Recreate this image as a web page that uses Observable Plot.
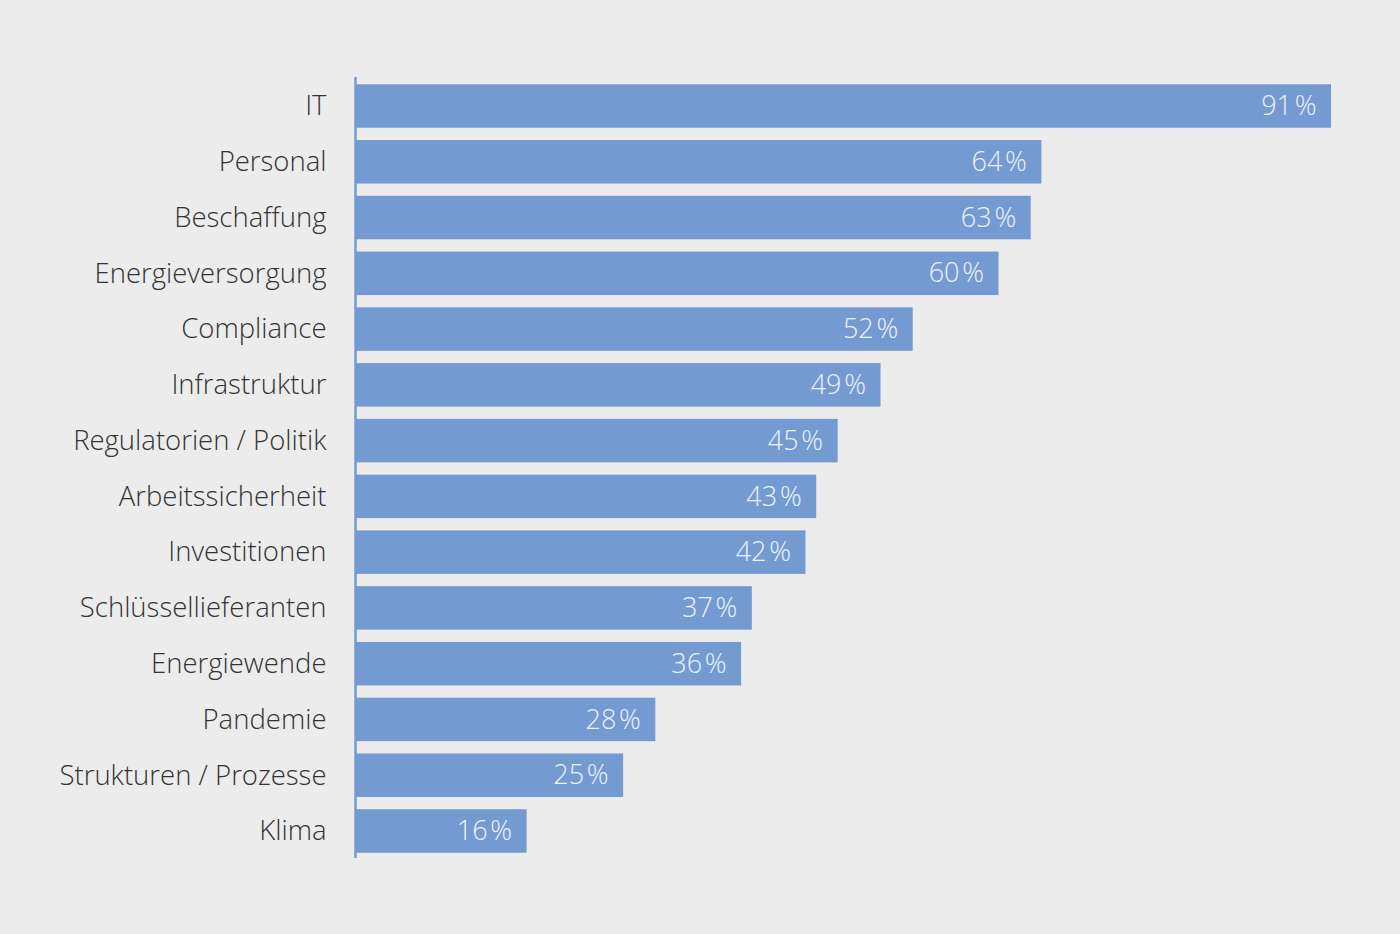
<!DOCTYPE html>
<html><head><meta charset="utf-8">
<script src="https://cdn.jsdelivr.net/npm/d3@7"></script>
<script src="https://cdn.jsdelivr.net/npm/@observablehq/plot@0.6"></script>
<style>
html,body{margin:0;padding:0;background:#ececec;}
#chart{width:1400px;height:934px;}
</style></head>
<body><div id="chart"></div>
<script>
const categories = ["IT","Personal","Beschaffung","Energieversorgung","Compliance","Infrastruktur","Regulatorien / Politik","Arbeitssicherheit","Investitionen","Schlüssellieferanten","Energiewende","Pandemie","Strukturen / Prozesse","Klima"];
const values = [91,64,63,60,52,49,45,43,42,37,36,28,25,16];
const data = categories.map((c,i)=>({category:c, value:values[i]}));
const barColor = "#739bd2";
const chart = Plot.plot({
  width:1400, height:934,
  marginLeft:355, marginRight:69, marginTop:72, marginBottom:69,
  style:{background:"#ececec", fontFamily:"'Open Sans', sans-serif", fontWeight:300, fontSize:"27px"},
  x:{domain:[0,91], axis:null},
  y:{domain:categories, padding:0.22, round:false, label:null, tickSize:0, tickPadding:29},
  marks:[
    Plot.barX(data,{x:"value", y:"category", fill:barColor, insetLeft:1}),
    Plot.ruleX([0],{stroke:barColor, strokeWidth:2.5, insetTop:5, insetBottom:7}),
    Plot.text(data,{x:"value", y:"category", text:d=>d.value+"\u200A%", textAnchor:"end", dx:-15, fill:"#eef2f9", fontSize:27, fontWeight:300}),
    Plot.axisY({tickSize:0, tickPadding:29, fontSize:27.5, fill:"#333333", label:null})
  ]
});
document.getElementById("chart").appendChild(chart);
</script></body></html>
